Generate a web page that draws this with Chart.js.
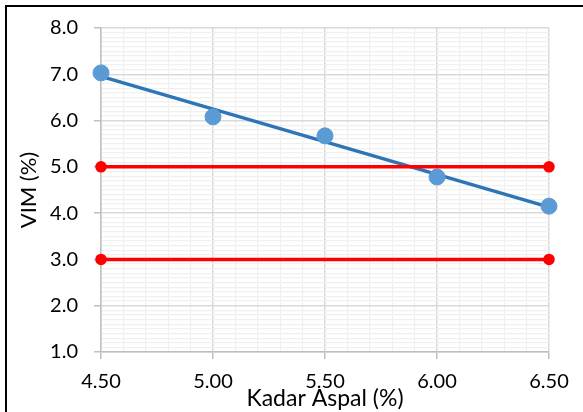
<!DOCTYPE html>
<html>
<head>
<meta charset="utf-8">
<script src="https://cdn.jsdelivr.net/npm/chart.js@4.4.1/dist/chart.umd.min.js"></script>
<style>
  html, body { margin: 0; padding: 0; background: #fff; }
  #wrap { position: relative; width: 583px; height: 412px; }
  #frame {
    position: absolute; left: 5px; top: 5px; width: 600px; height: 420px;
    border-left: 2px solid #000; border-top: 2px solid #000;
    pointer-events: none;
  }
</style>
</head>
<body>
<div id="wrap">
  <canvas id="vimChart" width="583" height="412"></canvas>
  <div id="frame"></div>
</div>
<script>
// asphalt content (%) and measured VIM (%)
const kadarAspal = [4.5, 5.0, 5.5, 6.0, 6.5];
const vimValues = [7.03, 6.08, 5.67, 4.78, 4.15];

// spec limits for VIM (%)
const vimMin = 3.0;
const vimMax = 5.0;

const xRange = [4.5, 6.5];
const yRange = [1.0, 8.0];

// least squares trendline through the measured points
function linearFit(xs, ys) {
    let n = xs.length;
    let mx = xs.reduce((a, b) => a + b, 0) / n;
    let my = ys.reduce((a, b) => a + b, 0) / n;
    let sxy = 0, sxx = 0;
    for (let i = 0; i < n; i++) {
        sxy += (xs[i] - mx) * (ys[i] - my);
        sxx += (xs[i] - mx) * (xs[i] - mx);
    }
    let slope = sxy / sxx;
    return x => my + slope * (x - mx);
}

const fit = linearFit(kadarAspal, vimValues);
const trendPoints = xRange.map(x => ({ x: x, y: fit(x) }));
const pointData = kadarAspal.map((x, i) => ({ x: x, y: vimValues[i] }));
const limitLine = v => xRange.map(x => ({ x: x, y: v }));

function isMajor(v, step) {
    let r = v / step;
    return Math.abs(r - Math.round(r)) < 1e-6;
}

const fontFamily = "Lato, 'Open Sans', sans-serif";

let ctx = document.getElementById("vimChart").getContext("2d");

new Chart(ctx, {
    type: "scatter",
    data: {
        datasets: [
            {
                label: "Batas atas",
                data: limitLine(vimMax),
                showLine: true,
                borderColor: "#ff0000",
                backgroundColor: "#ff0000",
                borderWidth: 3.5,
                pointRadius: 4,
                clip: false
            },
            {
                label: "Batas bawah",
                data: limitLine(vimMin),
                showLine: true,
                borderColor: "#ff0000",
                backgroundColor: "#ff0000",
                borderWidth: 3.5,
                pointRadius: 4,
                clip: false
            },
            {
                label: "VIM",
                data: pointData,
                backgroundColor: "#5b9bd5",
                borderColor: "#5b9bd5",
                pointRadius: 8,
                clip: false
            },
            {
                label: "Linear (VIM)",
                data: trendPoints,
                showLine: true,
                borderColor: "#2e75b6",
                borderWidth: 3.5,
                pointRadius: 0,
                clip: false
            }
        ]
    },
    options: {
        responsive: false,
        animation: false,
        layout: { padding: { left: 0, top: 28, right: 34, bottom: 0 } },
        plugins: {
            legend: { display: false },
            tooltip: { enabled: false }
        },
        scales: {
            x: {
                type: "linear",
                min: xRange[0],
                max: xRange[1],
                afterFit: scale => { scale.height = 60; },
                border: { color: "#bfbfbf", width: 1.5 },
                grid: {
                    color: c => isMajor(c.tick.value, 0.5) ? "#d9d9d9" : "#f0f0f0",
                    lineWidth: c => isMajor(c.tick.value, 0.5) ? 1.5 : 1.2,
                    tickColor: c => isMajor(c.tick.value, 0.5) ? "#bfbfbf" : "rgba(0,0,0,0)",
                    tickLength: 7
                },
                ticks: {
                    stepSize: 0.1,
                    autoSkip: false,
                    maxRotation: 0,
                    padding: 11,
                    color: "#000",
                    font: { family: fontFamily, size: 20 },
                    callback: v => isMajor(v, 0.5) ? v.toFixed(2) : ""
                },
                title: {
                    display: true,
                    text: "Kadar Aspal (%)",
                    color: "#000",
                    font: { family: fontFamily, size: 23 },
                    padding: { top: 0, bottom: 0 }
                }
            },
            y: {
                type: "linear",
                min: yRange[0],
                max: yRange[1],
                afterFit: scale => { scale.width = 101; },
                border: { color: "#bfbfbf", width: 1.5 },
                grid: {
                    color: c => isMajor(c.tick.value, 1) ? "#d9d9d9" : "#f0f0f0",
                    lineWidth: c => isMajor(c.tick.value, 1) ? 1.5 : 1.2,
                    tickColor: c => isMajor(c.tick.value, 1) ? "#bfbfbf" : "rgba(0,0,0,0)",
                    tickLength: 7
                },
                ticks: {
                    stepSize: 0.1,
                    autoSkip: false,
                    padding: 16,
                    color: "#000",
                    font: { family: fontFamily, size: 20 },
                    callback: v => isMajor(v, 1) ? v.toFixed(1) : ""
                },
                title: {
                    display: true,
                    text: "VIM (%)",
                    color: "#000",
                    font: { family: fontFamily, size: 22 },
                    padding: { top: 16, bottom: 0 }
                }
            }
        }
    }
});
</script>
</body>
</html>
